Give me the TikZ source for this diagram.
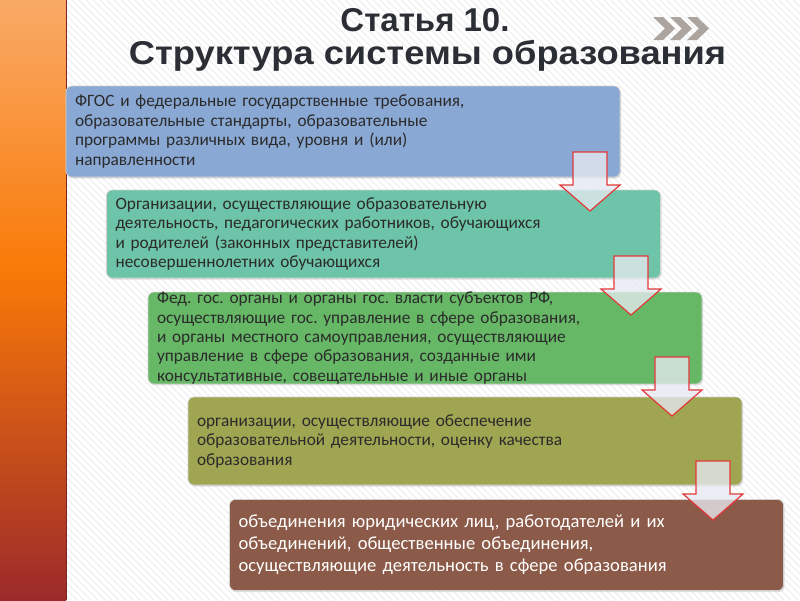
\documentclass[tikz,border=0pt]{standalone}
\usepackage{fontspec}
\setmainfont{Carlito}
\newfontfamily\titlefont{Liberation Sans}
\usetikzlibrary{shadows}
\definecolor{barA}{HTML}{F9AA66}
\definecolor{barB}{HTML}{F97A08}
\definecolor{barC}{HTML}{9C2A2A}
\definecolor{cA}{HTML}{89A8D4}
\definecolor{cB}{HTML}{6EC4A8}
\definecolor{cC}{HTML}{66B866}
\definecolor{cD}{HTML}{A0A552}
\definecolor{cE}{HTML}{8C5A48}
\definecolor{txt}{HTML}{2B2B2B}
\definecolor{ttl}{HTML}{2B2F35}
\definecolor{chev}{HTML}{ABA49F}
\definecolor{arrred}{HTML}{E3393A}
\definecolor{arrfill}{HTML}{E6EAF1}
\frenchspacing
\begin{document}
\begin{tikzpicture}[x=1pt,y=-1pt,
  stripe/.style={draw=black!6, line width=1.1pt},
  titletext/.style={font=\titlefont\bfseries\fontsize{33}{36}\selectfont, text=ttl, inner sep=0pt, anchor=base},
  boxnode/.style={rounded corners=6pt, draw=black!18, line width=0.6pt,
     drop shadow={shadow xshift=1pt, shadow yshift=-1.5pt, opacity=0.25},
     minimum width=554pt, text width=536pt, inner xsep=9pt, inner ysep=0pt, align=left,
     text=txt, font=\fontsize{17.3}{19.5}\selectfont},
  barrow/.style={draw=arrred, line width=1.2pt, fill=arrfill, fill opacity=0.78, line join=miter},
  chevron/.style={fill=chev}]
\useasboundingbox (0,0) rectangle (800,600);
\fill[white] (0,0) rectangle (800,600);
% background stripes
\begin{scope}
  \clip (66,0) rectangle (800,600);
  \foreach \i in {-600,-593,...,800} \draw[stripe] (\i,0) -- ++(600,600);
\end{scope}
% left bar
\shade[top color=barA, bottom color=barB] (0,0) rectangle (66,270);
\shade[top color=barB, bottom color=barC] (0,269.5) rectangle (66,600);
\draw[barC!80!black, line width=0.8pt] (66,0) -- (66,600);
% chevrons
\foreach \cx in {653,670,687}
  \fill[chevron] (\cx,17) -- ++(10,0) -- ++(12,11.5) -- ++(-12,11.5) -- ++(-10,0) -- ++(12,-11.5) -- cycle;
% title
\node[titletext] (t1) at (425,31) {Статья 10.};
\node[titletext] (t2) at (427.5,64) {\scalebox{1.1}[1]{Структура системы образования}};
% boxes
\node[boxnode, fill=cA, minimum height=91pt] (b1) at (343,131.5)
  {ФГОС и федеральные государственные требования,\\ образовательные стандарты, образовательные\\ программы различных вида, уровня и (или)\\ направленности};
\node[boxnode, fill=cB, minimum height=88pt] (b2) at (383.5,234)
  {Организации, осуществляющие образовательную\\ деятельность, педагогических работников, обучающихся\\ и родителей (законных представителей)\\ несовершеннолетних обучающихся};
\node[boxnode, fill=cC, minimum height=90pt, font=\fontsize{17.3}{19.3}\selectfont] (b3) at (425,338)
  {Фед. гос. органы и органы гос. власти субъектов РФ,\\ осуществляющие гос. управление в сфере образования,\\ и органы местного самоуправления, осуществляющие\\ управление в сфере образования, созданные ими\\ консультативные, совещательные и иные органы};
\node[boxnode, fill=cD, minimum height=88pt] (b4) at (465,441)
  {организации, осуществляющие обеспечение\\ образовательной деятельности, оценку качества\\ образования};
\node[boxnode, fill=cE, minimum height=91pt, text=white, font=\fontsize{18.6}{22}\selectfont] (b5) at (506.5,545)
  {объединения юридических лиц, работодателей и их\\ объединений, общественные объединения,\\ осуществляющие деятельность в сфере образования};
% block arrows
\coordinate (a1) at (590,152);
\coordinate (a2) at (631,256);
\coordinate (a3) at (672,357);
\coordinate (a4) at (713,461);
\foreach \a in {a1,a2,a3,a4}
  \draw[barrow] (\a) ++(-17,0) -- ++(34,0) -- ++(0,33) -- ++(13,0) -- ++(-30,26) -- ++(-30,-26) -- ++(13,0) -- cycle;
\end{tikzpicture}
\end{document}
